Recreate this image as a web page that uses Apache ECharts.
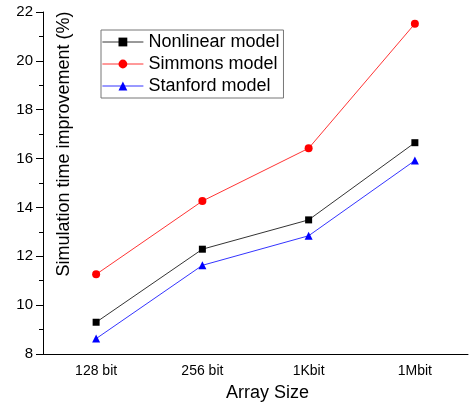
<!DOCTYPE html>
<html>
<head>
<meta charset="utf-8">
<script src="https://cdn.jsdelivr.net/npm/echarts@6/dist/echarts.min.js"></script>
<style>html,body{margin:0;padding:0;background:#fff}#c{width:475px;height:407px}</style>
</head>
<body>
<div id="c"></div>
<script>
var categories = ['128 bit', '256 bit', '1Kbit', '1Mbit'];
var nonlinear = [9.30, 12.29, 13.49, 16.65];
var simmons = [11.26, 14.26, 16.42, 21.52];
var stanford = [8.63, 11.63, 12.84, 15.92];
var seriesNames = ['Nonlinear model', 'Simmons model', 'Stanford model'];
var yTicks = { min: 8, max: 22, interval: 2 };

var FONT = 'Liberation Sans, Arial, sans-serif';
var chart = echarts.init(document.getElementById('c'));
chart.setOption({
  animation: false,
  backgroundColor: '#fff',
  grid: { left: 43, right: 7, top: 12, bottom: 52, containLabel: false },
  legend: {
    data: seriesNames,
    orient: 'vertical',
    left: 101, top: 30,
    itemWidth: 41, itemHeight: 11, itemGap: 4,
    padding: [3, 4, 3, 1],
    borderColor: '#777', borderWidth: 1,
    lineStyle: { width: 0.8 },
    textStyle: { fontFamily: FONT, fontSize: 18, color: '#000', lineHeight: 18 }
  },
  xAxis: [{
    type: 'category', data: categories, boundaryGap: true,
    axisLine: { lineStyle: { color: '#000', width: 1 } },
    axisTick: { alignWithLabel: true, length: 7, lineStyle: { color: '#000' } },
    axisLabel: { fontFamily: FONT, fontSize: 14, color: '#000', margin: 10 },
    name: 'Array Size', nameLocation: 'middle', nameGap: 30,
    nameTextStyle: { fontFamily: FONT, fontSize: 18, color: '#000', padding: [0, 0, 0, 24] },
    splitLine: { show: false }
  }, {
    type: 'category', data: categories, boundaryGap: true, position: 'bottom',
    axisLine: { show: false },
    axisTick: { length: 4, lineStyle: { color: '#000' } },
    axisLabel: { show: false },
    splitLine: { show: false }
  }],
  yAxis: {
    type: 'value', min: yTicks.min, max: yTicks.max, interval: yTicks.interval,
    axisLine: { show: true, lineStyle: { color: '#000', width: 1 } },
    axisTick: { show: true, length: 7, lineStyle: { color: '#000' } },
    minorTick: { show: true, splitNumber: 2, length: 4, lineStyle: { color: '#000' } },
    axisLabel: { fontFamily: FONT, fontSize: 15, color: '#000', margin: 10 },
    splitLine: { show: false }
  },
  graphic: [{
    type: 'text', x: 64, y: 144, rotation: Math.PI / 2,
    style: { text: 'Simulation time improvement (%)', font: '18px ' + FONT, fill: '#000', align: 'center', verticalAlign: 'middle', textAlign: 'center', textVerticalAlign: 'middle' }
  }],
  series: [{
    name: seriesNames[0], type: 'line', data: nonlinear, symbol: 'rect', symbolSize: 7,
    lineStyle: { color: '#000', width: 0.8 }, itemStyle: { color: '#000' }
  }, {
    name: seriesNames[1], type: 'line', data: simmons, symbol: 'circle', symbolSize: 8,
    lineStyle: { color: '#ff0000', width: 0.8 }, itemStyle: { color: '#ff0000' }
  }, {
    name: seriesNames[2], type: 'line', data: stanford, symbol: 'triangle', symbolSize: 8,
    lineStyle: { color: '#0000ff', width: 0.8 }, itemStyle: { color: '#0000ff' }
  }]
});
</script>
</body>
</html>
